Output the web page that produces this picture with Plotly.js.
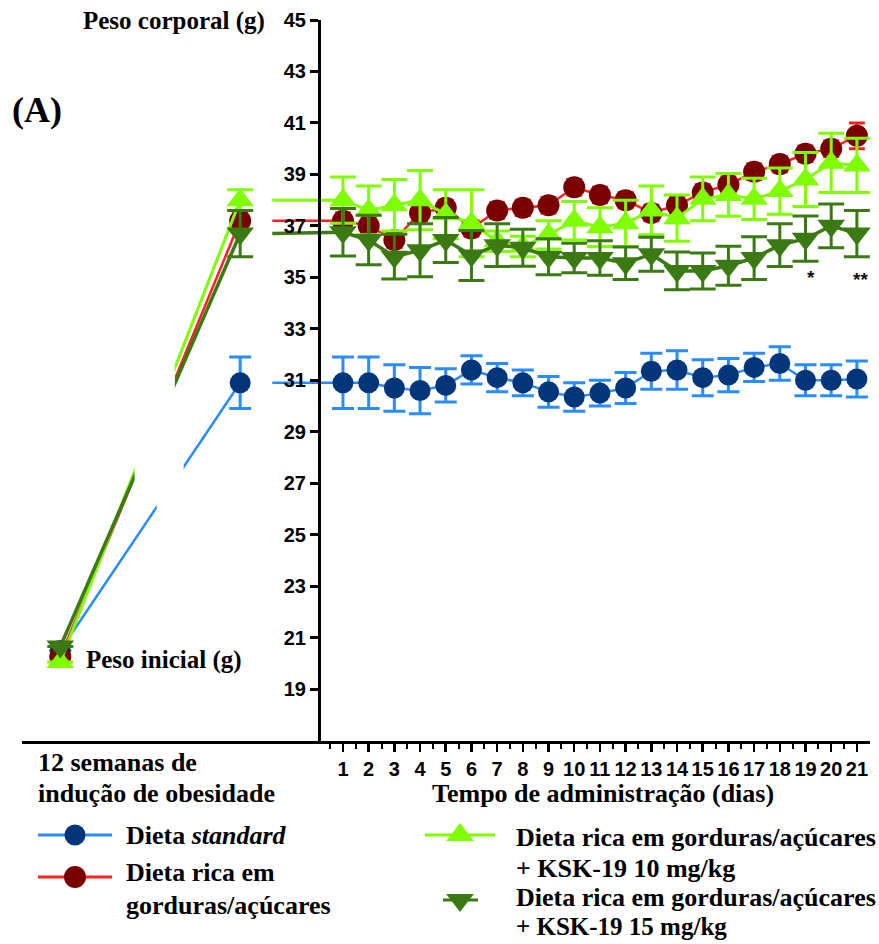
<!DOCTYPE html>
<html>
<head>
<meta charset="utf-8">
<script src="https://cdn.plot.ly/plotly-3.0.1.min.js"></script>
<style>html,body{margin:0;padding:0;background:#fff;}</style>
</head>
<body>
<div id="chart" style="width:879px;height:944px;"></div>
<script>
// ---------- DATA ----------
const days = [1,2,3,4,5,6,7,8,9,10,11,12,13,14,15,16,17,18,19,20,21];
const yTicks = [19,21,23,25,27,29,31,33,35,37,39,41,43,45];

// Dieta standard
const stdInit = 20.5;
const stdWeek12 = 30.9, stdWeek12Err = 1.0;
const stdMean = [30.9,30.9,30.7,30.6,30.8,31.4,31.1,30.9,30.55,30.35,30.5,30.7,31.35,31.4,31.1,31.2,31.5,31.65,31.0,31.0,31.05];
const stdErr  = [1.0,1.0,0.9,0.9,0.65,0.55,0.55,0.5,0.6,0.55,0.5,0.6,0.7,0.75,0.7,0.65,0.55,0.65,0.6,0.6,0.7];

// Dieta rica em gorduras/açúcares
const hfdInit = 20.25;
const hfdWeek12 = 37.2, hfdWeek12Err = 0.3;
const hfdMean = [37.2,37.0,36.45,37.5,37.7,36.9,37.6,37.7,37.8,38.5,38.2,38.0,37.5,37.8,38.3,38.6,39.1,39.4,39.8,40.0,40.5];
const hfdErr  = [0.3,0.3,0.3,0.3,0.3,0.3,0.3,0.3,0.3,0.3,0.3,0.3,0.3,0.3,0.3,0.3,0.3,0.3,0.3,0.3,0.5];

// + KSK-19 10 mg/kg
const k10Init = 20.05;
const k10Week12 = 38.0, k10Week12Err = 0.4;
const k10Mean = [38.0,37.6,37.8,38.0,37.45,37.1,36.4,36.2,36.65,37.2,36.95,37.1,37.6,37.3,38.05,38.2,38.05,38.35,38.8,39.45,39.35];
const k10Err  = [0.9,0.95,1.0,1.15,0.95,1.3,0.4,0.4,0.55,0.75,0.75,0.9,0.95,0.9,0.85,0.83,0.8,0.9,1.05,1.15,1.05];

// + KSK-19 15 mg/kg
const k15Init = 20.65;
const k15Week12 = 36.7, k15Week12Err = 0.9;
const k15Mean = [36.75,36.45,35.8,36.05,36.45,35.85,36.25,36.15,35.8,35.75,35.75,35.55,35.9,35.25,35.25,35.45,35.75,36.25,36.5,37.0,36.7];
const k15Err  = [0.92,0.96,0.87,1.03,0.87,0.97,0.83,0.72,0.7,0.57,0.67,0.63,0.66,0.73,0.7,0.76,0.83,0.83,0.88,0.85,0.9];

// ---------- LAYOUT CONSTANTS ----------
const W = 879, H = 944, ML = 22, MR = 9, MT = 20, MB = 0;
const PW = W - ML - MR, PH = H - MT - MB;
const px = x => (x - ML) / PW;          // pixel x -> paper
const py = y => (H - MB - y) / PH;      // pixel y -> paper
const X_INIT = -10, X_WEEK12 = -3, X_BRIDGE = -1.75;
const BREAK_HFD = [-7.1, -5.55], BREAK_STD = [-6.25, -5.2];

const serif = 'Liberation Serif';
const sans = 'Liberation Sans';

const groups = [
  {name:'std', init:stdInit, w12:stdWeek12, w12e:stdWeek12Err, mean:stdMean, err:stdErr,
   line:'#2a8cff', lw:2.5, mc:'#03357a', sym:'circle', ms:21, ec:'#2a8cff', cap:11, brk:BREAK_STD},
  {name:'hfd', init:hfdInit, w12:hfdWeek12, w12e:hfdWeek12Err, mean:hfdMean, err:hfdErr,
   line:'#ff2020', lw:2.5, mc:'#7a0000', sym:'circle', ms:22, ec:'#ff2020', cap:8, brk:BREAK_HFD},
  {name:'k10', init:k10Init, w12:k10Week12, w12e:k10Week12Err, mean:k10Mean, err:k10Err,
   line:'#80ff00', lw:3, mc:'#80ff00', sym:'triangle-up', ms:24, ec:'#80ff00', cap:13, brk:BREAK_HFD},
  {name:'k15', init:k15Init, w12:k15Week12, w12e:k15Week12Err, mean:k15Mean, err:k15Err,
   line:'#3b7a12', lw:3.5, mc:'#3b7a12', sym:'triangle-down', ms:24, ec:'#3b7a12', cap:13, brk:BREAK_HFD},
];

const traces = [];
const shapes = [];
groups.forEach(g => {
  // bridge from 12 weeks to day 1
  traces.push({x:[X_BRIDGE, days[0]], y:[g.w12, g.mean[0]], mode:'lines',
    line:{color:g.line, width:g.lw}, hoverinfo:'skip', showlegend:false});
  // induction segment
  traces.push({x:[X_INIT, X_WEEK12], y:[g.init, g.w12], mode:'lines+markers',
    line:{color:g.line, width:g.lw},
    marker:{symbol:g.sym, size:g.ms, color:g.mc},
    error_y:{type:'data', array:[null, g.w12e], color:g.ec, thickness:3, width:g.cap},
    showlegend:false});
  // administration period
  traces.push({x:days, y:g.mean, mode:'lines+markers',
    line:{color:g.line, width:g.lw},
    marker:{symbol:g.sym, size:g.ms, color:g.mc},
    error_y:{type:'data', array:g.err, color:g.ec, thickness:3, width:g.cap},
    showlegend:false});
  // axis-break gap on induction line
  const slope = (g.w12 - g.init) / (X_WEEK12 - X_INIT);
  const ya = g.init + slope * (g.brk[0] - X_INIT);
  const yb = g.init + slope * (g.brk[1] - X_INIT);
  const pad = 0.35;
  shapes.push({type:'path', xref:'x', yref:'y', layer:'above',
    path:`M ${g.brk[0]},${ya-pad} L ${g.brk[1]},${yb-pad} L ${g.brk[1]},${yb+pad} L ${g.brk[0]},${ya+pad} Z`,
    fillcolor:'#ffffff', line:{width:0}});
});

// legend keys (drawn on a hidden pixel-scaled axis pair)
const legendKeys = [
  {g:0, x0:38, x1:112, xm:75, y:835},
  {g:1, x0:38, x1:112, xm:75, y:877},
  {g:2, x0:425, x1:495, xm:460, y:835},
  {g:3, x0:443, x1:478, xm:460, y:900},
];
legendKeys.forEach(k => {
  const g = groups[k.g];
  traces.push({x:[k.x0, k.x1], y:[k.y, k.y], xaxis:'x3', yaxis:'y3', mode:'lines',
    line:{color:g.line, width:3}, hoverinfo:'skip', showlegend:false});
  traces.push({x:[k.xm], y:[k.y], xaxis:'x3', yaxis:'y3', mode:'markers',
    marker:{symbol:g.sym, size:g.ms, color:g.mc}, hoverinfo:'skip', showlegend:false});
});

function txt(text, x, y, size, anchor) {
  return {text:text, xref:'paper', yref:'paper', x:px(x), y:py(y),
    xanchor:anchor || 'left', yanchor:'middle', showarrow:false,
    font:{family:serif, size:size, color:'#000'}};
}

const annotations = [
  txt('<b>Peso corporal (g)</b>', 267, 21, 25, 'right'),
  txt('<b>(A)</b>', 10, 110, 36),
  txt('<b>Peso inicial (g)</b>', 84, 660, 25),
  txt('<b>12 semanas de</b>', 36, 762, 26),
  txt('<b>indução de obesidade</b>', 36, 793, 26),
  txt('<b>Tempo de administração (dias)</b>', 603, 793, 26, 'center'),
  txt('<b>Dieta <i>standard</i></b>', 124, 835, 26),
  txt('<b>Dieta rica em</b>', 124, 872, 26),
  txt('<b>gorduras/açúcares</b>', 124, 905, 26),
  txt('<b>Dieta rica em gorduras/açúcares</b>', 514, 837, 26),
  txt('<b>+ KSK-19 10 mg/kg</b>', 514, 868, 26),
  txt('<b>Dieta rica em gorduras/açúcares</b>', 514, 897, 26),
  txt('<b>+ KSK-19 15 mg/kg</b>', 514, 926, 25),
  {text:'<b>*</b>', xref:'x', yref:'y', x:19.2, y:35.0, showarrow:false,
    font:{family:sans, size:19, color:'#111'}},
  {text:'<b>**</b>', xref:'x', yref:'y', x:21.15, y:34.9, showarrow:false,
    font:{family:sans, size:19, color:'#111'}},
];

const halfDays = days.map(d => d - 0.5);
const tickFont = {family:sans, size:20, color:'#000', weight:'bold'};

const layout = {
  width:W, height:H,
  margin:{l:ML, r:MR, t:MT, b:MB, pad:0},
  paper_bgcolor:'#fff', plot_bgcolor:'rgba(0,0,0,0)',
  showlegend:false,
  xaxis:{domain:[0,1], range:[-11.49, 21.51], anchor:'y',
    showline:true, linecolor:'#000', linewidth:3,
    tickmode:'array', tickvals:days, ticktext:days.map(String),
    ticks:'outside', ticklen:8, tickwidth:2.5, tickcolor:'#000', tickfont:tickFont,
    minor:{tickmode:'array', tickvals:halfDays, ticks:'outside', ticklen:5, tickwidth:2, tickcolor:'#000', showgrid:false},
    showgrid:false, zeroline:false, fixedrange:true},
  yaxis:{domain:[py(740.5), 1], range:[17, 45], anchor:'free', position:px(319),
    showline:true, linecolor:'#000', linewidth:3,
    tickmode:'array', tickvals:yTicks, ticks:'outside', ticklen:8, tickwidth:3, tickcolor:'#000',
    tickfont:tickFont, showgrid:false, zeroline:false, fixedrange:true},
  xaxis3:{domain:[0,1], range:[ML, W-MR], anchor:'y3', visible:false, fixedrange:true},
  yaxis3:{domain:[0, py(760)], range:[H-MB, 760], anchor:'x3', visible:false, fixedrange:true},
  shapes:shapes,
  annotations:annotations,
};

Plotly.newPlot('chart', traces, layout, {displayModeBar:false, staticPlot:true});
</script>
</body>
</html>
